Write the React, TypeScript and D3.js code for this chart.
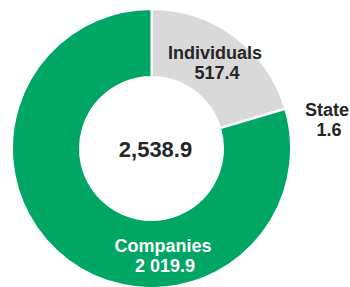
import React from "react";
import * as d3 from "d3";

const categories = ["Individuals", "State", "Companies"];
const values = [517.4, 1.6, 2019.9];
const valueLabels = ["517.4", "1.6", "2 019.9"];
const totalLabel = "2,538.9";
const colors = ["#D9D9D9", "#FFFFFF", "#00A664"];
const textColors = ["#262626", "#262626", "#FFFFFF"];
// label anchor positions (layout)
const labelPos: [number, number][] = [
  [215, 59],
  [327, 116],
  [163, 252],
];

export default function App() {
  const W = 350, H = 287;
  const cx = 151.5, cy = 148.5;
  const outerR = 139.5, innerR = 71.5;
  const pie = d3.pie<number>().sort(null).startAngle(0).endAngle(2 * Math.PI);
  const arcs = pie(values);
  const arc = d3.arc<d3.PieArcDatum<number>>().innerRadius(innerR).outerRadius(outerR);
  const font = "'Liberation Sans', Arial, sans-serif";
  return (
    <svg width={W} height={H} style={{ position: "absolute", left: 0, top: 0, background: "#fff" }}>
      <g transform={`translate(${cx},${cy})`}>
        {arcs.map((a, i) => (
          <path key={i} d={arc(a) || ""} fill={colors[i]} stroke="#fff" strokeWidth={2} />
        ))}
      </g>
      <text x={cx + 4} y={157} textAnchor="middle" fontFamily={font} fontWeight="bold" fontSize={22} fill="#262626">
        {totalLabel}
      </text>
      {categories.map((c, i) => (
        <g key={c} fontFamily={font} fontWeight="bold" fontSize={18} fill={textColors[i]} textAnchor="middle">
          <text x={labelPos[i][0]} y={labelPos[i][1]}>{c}</text>
          <text x={labelPos[i][0] + (i === 0 ? 2 : 2)} y={labelPos[i][1] + 20}>{valueLabels[i]}</text>
        </g>
      ))}
    </svg>
  );
}
